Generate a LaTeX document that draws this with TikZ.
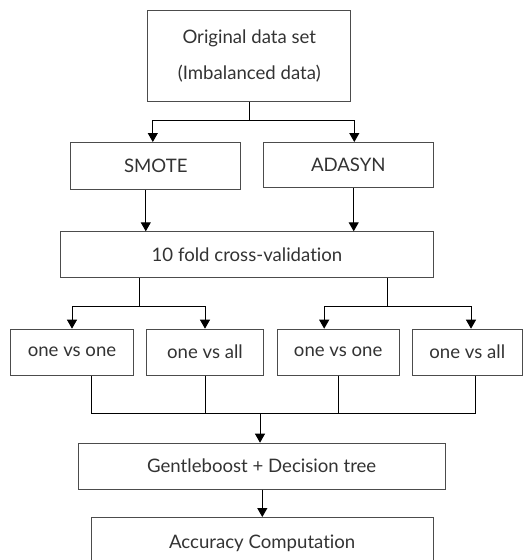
\documentclass[tikz,border=0pt]{standalone}
\usepackage{fontspec}
\newfontfamily\boxfont[Ligatures={NoCommon,NoRare}]{Lato}
\usepackage{tikz}
\usetikzlibrary{calc,arrows.meta,positioning}

\begin{document}
\begin{tikzpicture}[x=1pt,y=-1pt,
	box/.style={draw=black!70, line width=1pt, inner sep=2pt, minimum height=46,
		font=\boxfont\fontsize{18.6}{36}\selectfont, text=black!80, align=center},
	arr/.style={-{Triangle[width=10pt,length=9pt]}, line width=1pt},
	ln/.style={line width=1pt}]
	
	\useasboundingbox (0,0) rectangle (523,560);
	
	% boxes
	\node[box, minimum width=203, minimum height=91] (orig) at (249.3,56.3) {Original data set\\(Imbalanced data)};
	
	\node[box, minimum width=170, minimum height=47] (smote) at (155.8,166) {SMOTE};
	\node[box, minimum width=170, minimum height=45] (adasyn) at (348.3,165) {ADASYN};
	
	\node[box, minimum width=373] (cv) at (247,254.8) {10 fold cross-validation};
	
	\node[box, minimum width=123] (ovoA) at (72,352.2) {one vs one};
	\node[box, minimum width=117] (ovaA) at (205,352.2) {one vs all};
	\node[box, minimum width=122] (ovoB) at (338.2,352.2) {one vs one};
	\node[box, minimum width=110] (ovaB) at (467.3,352.2) {one vs all};
	
	\node[box, minimum width=367] (gb) at (261.7,466.2) {Gentleboost + Decision tree};
	\node[box, minimum width=342, minimum height=51] (acc) at (262.2,543) {Accuracy Computation};
	
	% resampling
	\coordinate (split1) at ($(orig.south)+(0,18.3)$);
	\draw[ln] (orig.south) -- (split1);
	\draw[arr] (split1) -| ([xshift=-3]smote.north);
	\draw[arr] (split1) -| ([xshift=6]adasyn.north);
	
	\draw[arr] ([xshift=-10]smote.south) -- ([xshift=-10]smote.south |- cv.north);
	\draw[arr] ([xshift=5.4]adasyn.south) -- ([xshift=5.4]adasyn.south |- cv.north);
	
	% multiclass
	\coordinate (split2) at (139.3,306.7);
	\coordinate (split3) at (387.3,306.7);
	\draw[ln] (split2 |- cv.south) -- (split2);
	\draw[ln] (split3 |- cv.south) -- (split3);
	\draw[arr] (split2) -| (ovoA.north);
	\draw[arr] (split2) -| (ovaA.north);
	\draw[arr] (split3) -| ([xshift=-14]ovoB.north);
	\draw[arr] (split3) -| ([xshift=3.7]ovaB.north);
	
	% merge
	\coordinate (merge) at (260,413.3);
	\draw[ln] ([xshift=19]ovoA.south) |- (merge);
	\draw[ln] (ovaA.south) -- (ovaA.south |- merge);
	\draw[ln] (ovoB.south) -- (ovoB.south |- merge);
	\draw[ln] ([xshift=7.7]ovaB.south) |- (merge);
	\draw[arr] (merge) -- (merge |- gb.north);
	
	\draw[arr] ([xshift=0.6]gb.south) -- ([xshift=0.6]gb.south |- acc.north);
\end{tikzpicture}
\end{document}
